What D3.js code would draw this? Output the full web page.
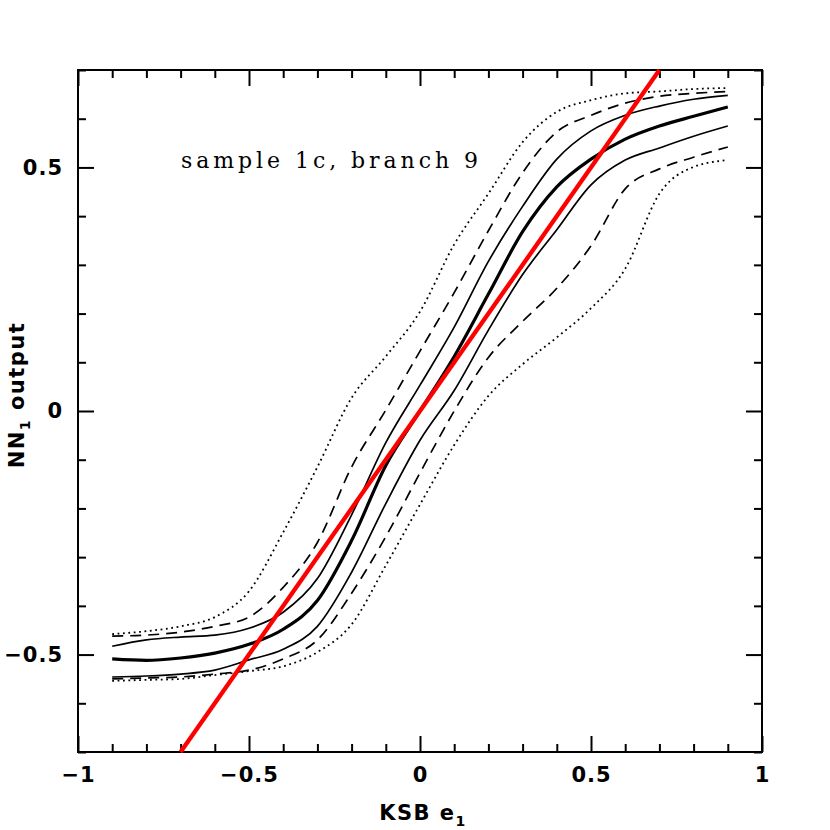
<!DOCTYPE html>
<html>
<head>
<meta charset="utf-8">
<script src="https://cdn.jsdelivr.net/npm/d3@7"></script>
<style>
  html, body { margin: 0; padding: 0; background: #fff; }
  svg { display: block; }
</style>
</head>
<body>
<svg id="chart" width="830" height="830"></svg>
<script>
// ---- data ----
const xGrid = [-0.9,-0.8,-0.7,-0.6,-0.5,-0.4,-0.3,-0.2,-0.1,0,0.1,0.2,0.3,0.4,0.5,0.6,0.7,0.8,0.9];
const thick       = [-0.509,-0.512,-0.507,-0.497,-0.479,-0.448,-0.389,-0.266,-0.112,0.000,0.112,0.240,0.368,0.460,0.517,0.558,0.585,0.605,0.624];
const thinUpper   = [-0.483,-0.470,-0.464,-0.460,-0.446,-0.413,-0.344,-0.213,-0.065,0.053,0.172,0.307,0.420,0.517,0.575,0.607,0.626,0.640,0.648];
const thinLower   = [-0.546,-0.544,-0.540,-0.532,-0.511,-0.489,-0.442,-0.331,-0.190,-0.060,0.042,0.166,0.280,0.372,0.464,0.515,0.540,0.564,0.585];
const dashedUpper = [-0.462,-0.460,-0.454,-0.442,-0.423,-0.362,-0.270,-0.115,0.002,0.123,0.243,0.370,0.489,0.573,0.607,0.632,0.646,0.652,0.656];
const dashedLower = [-0.550,-0.548,-0.546,-0.540,-0.532,-0.509,-0.470,-0.374,-0.258,-0.127,0.000,0.110,0.184,0.252,0.339,0.456,0.497,0.521,0.542];
const dottedUpper = [-0.458,-0.452,-0.442,-0.423,-0.370,-0.249,-0.115,0.027,0.112,0.204,0.342,0.446,0.552,0.614,0.638,0.652,0.656,0.661,0.663];
const dottedLower = [-0.554,-0.552,-0.550,-0.542,-0.534,-0.524,-0.495,-0.438,-0.317,-0.192,-0.070,0.031,0.096,0.151,0.211,0.292,0.446,0.501,0.515];
const identityX = [-0.7, 0.7];
const identityY = [-0.7, 0.7];

const xDomain = [-1, 1];
const yDomain = [-0.7, 0.7];
const xMajorTicks = [-1, -0.5, 0, 0.5, 1];
const xTickLabels = ["\u22121", "\u22120.5", "0", "0.5", "1"];
const xMinorTicks = [-0.9,-0.8,-0.7,-0.6,-0.4,-0.3,-0.2,-0.1,0.1,0.2,0.3,0.4,0.6,0.7,0.8,0.9];
const yMajorTicks = [-0.5, 0, 0.5];
const yTickLabels = ["\u22120.5", "0", "0.5"];
const yMinorTicks = [-0.7,-0.6,-0.4,-0.3,-0.2,-0.1,0.1,0.2,0.3,0.4,0.6,0.7];
const annotation = "sample 1c, branch 9";

// ---- layout ----
const L = 78, R = 762, T = 70, B = 752;
const svg = d3.select("#chart");
const x = d3.scaleLinear(xDomain, [L, R]);
const y = d3.scaleLinear(yDomain, [B, T]);

const tickFont = "'DejaVu Sans', sans-serif";

function styleAxis(g) {
  g.select(".domain").remove();
  g.selectAll(".tick line").attr("stroke", "#000").attr("stroke-width", 2);
}

// minor ticks (all four sides)
svg.append("g").attr("transform", `translate(0,${B})`)
  .call(d3.axisBottom(x).tickValues(xMinorTicks).tickSize(-8).tickFormat(""))
  .call(styleAxis);
svg.append("g").attr("transform", `translate(0,${T})`)
  .call(d3.axisTop(x).tickValues(xMinorTicks).tickSize(-8).tickFormat(""))
  .call(styleAxis);
svg.append("g").attr("transform", `translate(${L},0)`)
  .call(d3.axisLeft(y).tickValues(yMinorTicks).tickSize(-8).tickFormat(""))
  .call(styleAxis);
svg.append("g").attr("transform", `translate(${R},0)`)
  .call(d3.axisRight(y).tickValues(yMinorTicks).tickSize(-8).tickFormat(""))
  .call(styleAxis);

// major ticks
const xb = svg.append("g").attr("transform", `translate(0,${B})`)
  .call(d3.axisBottom(x).tickValues(xMajorTicks).tickSize(-16).tickPadding(15)
    .tickFormat((d, i) => xTickLabels[i]))
  .call(styleAxis);
svg.append("g").attr("transform", `translate(0,${T})`)
  .call(d3.axisTop(x).tickValues(xMajorTicks).tickSize(-16).tickFormat(""))
  .call(styleAxis);
const yl = svg.append("g").attr("transform", `translate(${L},0)`)
  .call(d3.axisLeft(y).tickValues(yMajorTicks).tickSize(-16).tickPadding(15)
    .tickFormat((d, i) => yTickLabels[i]))
  .call(styleAxis);
svg.append("g").attr("transform", `translate(${R},0)`)
  .call(d3.axisRight(y).tickValues(yMajorTicks).tickSize(-16).tickFormat(""))
  .call(styleAxis);

xb.selectAll("text").attr("font-family", tickFont).attr("font-size", 21)
  .attr("font-weight", "bold").attr("fill", "#000").attr("letter-spacing", "1px");
yl.selectAll("text").attr("font-family", tickFont).attr("font-size", 21)
  .attr("font-weight", "bold").attr("fill", "#000").attr("letter-spacing", "1px");

// frame
svg.append("rect").attr("x", L).attr("y", T).attr("width", R - L).attr("height", B - T)
  .attr("fill", "none").attr("stroke", "#000").attr("stroke-width", 2);

// ---- curves ----
const line = d3.line().x(d => x(d[0])).y(d => y(d[1])).curve(d3.curveMonotoneX);
const series = [
  { vals: dottedUpper, w: 1.8, dash: "1.8,3.6" },
  { vals: dottedLower, w: 1.8, dash: "1.8,3.6" },
  { vals: dashedUpper, w: 1.7, dash: "11,7" },
  { vals: dashedLower, w: 1.7, dash: "11,7" },
  { vals: thinUpper, w: 1.7, dash: null },
  { vals: thinLower, w: 1.7, dash: null },
  { vals: thick, w: 3.2, dash: null }
];
series.forEach(s => {
  svg.append("path")
    .datum(xGrid.map((xv, i) => [xv, s.vals[i]]))
    .attr("d", line)
    .attr("fill", "none")
    .attr("stroke", "#000")
    .attr("stroke-width", s.w)
    .attr("stroke-dasharray", s.dash);
});

// identity line (red)
svg.append("path")
  .datum(identityX.map((xv, i) => [xv, identityY[i]]))
  .attr("d", d3.line().x(d => x(d[0])).y(d => y(d[1])))
  .attr("fill", "none").attr("stroke", "#ff0000").attr("stroke-width", 4.3);

// ---- texts ----
svg.append("text")
  .attr("x", 181).attr("y", 168)
  .attr("font-family", "'DejaVu Serif', serif").attr("font-size", 22)
  .attr("textLength", 297).attr("lengthAdjust", "spacing")
  .attr("fill", "#000")
  .text(annotation);

const xt = svg.append("text")
  .attr("x", 423).attr("y", 820)
  .attr("text-anchor", "middle")
  .attr("font-family", tickFont).attr("font-size", 21).attr("font-weight", "bold")
  .attr("letter-spacing", "1.5px").attr("fill", "#000");
xt.append("tspan").text("KSB e");
xt.append("tspan").attr("font-size", 14).attr("dy", 6).text("1");

const yt = svg.append("text")
  .attr("transform", "translate(24,395) rotate(-90)")
  .attr("text-anchor", "middle")
  .attr("font-family", tickFont).attr("font-size", 21).attr("font-weight", "bold")
  .attr("letter-spacing", "1.5px").attr("fill", "#000");
yt.append("tspan").text("NN");
yt.append("tspan").attr("font-size", 14).attr("dy", 6).text("1");
yt.append("tspan").attr("dy", -6).text(" output");
</script>
</body>
</html>
